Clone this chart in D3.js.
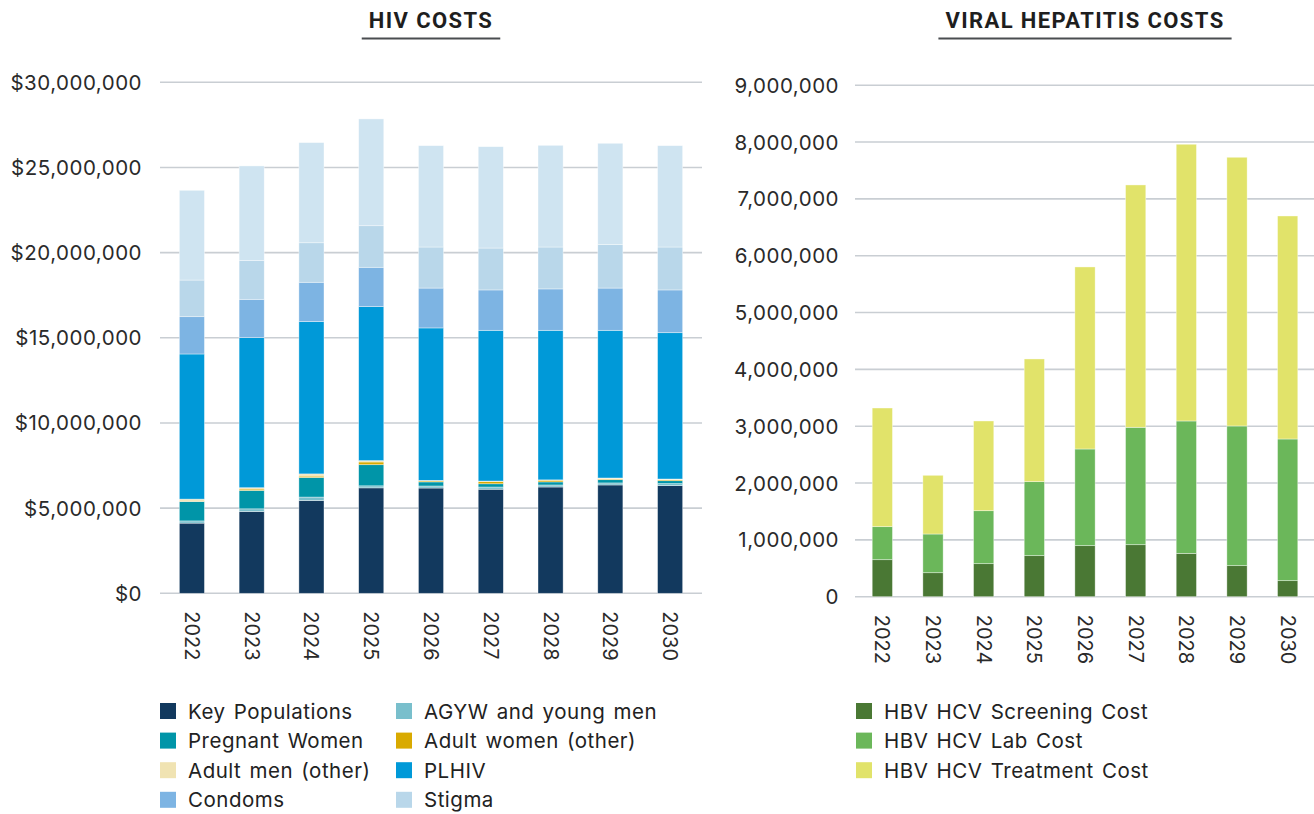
<!DOCTYPE html>
<html>
<head>
<meta charset="utf-8">
<script src="https://cdn.jsdelivr.net/npm/d3@7"></script>
<style>
  html, body { margin: 0; padding: 0; background: #fff; overflow: hidden; }
  svg { display: block; }
  text { font-family: Inter, "Noto Sans", sans-serif; fill: #222; }
</style>
</head>
<body>
<svg id="chart" width="1314" height="814"></svg>
<script>
// Years shared by both panels
const years = ["2022", "2023", "2024", "2025", "2026", "2027", "2028", "2029", "2030"];

// HIV costs by programme area (US$ millions)
const hivSeries = ["Key Populations", "AGYW and young men", "Pregnant Women", "Adult women (other)",
                   "Adult men (other)", "PLHIV", "Condoms", "Stigma", "Other enablers"];
const keyPopulations = [4.12, 4.80, 5.45, 6.19, 6.18, 6.11, 6.24, 6.36, 6.32];
const agyw           = [0.13, 0.16, 0.20, 0.12, 0.12, 0.13, 0.12, 0.12, 0.12];
const pregnantWomen  = [1.14, 1.08, 1.15, 1.24, 0.24, 0.19, 0.18, 0.19, 0.17];
const adultWomen     = [0.02, 0.08, 0.08, 0.16, 0.06, 0.14, 0.10, 0.05, 0.06];
const adultMen       = [0.12, 0.08, 0.13, 0.08, 0.03, 0.02, 0.02, 0.05, 0.04];
const plhiv          = [8.52, 8.81, 8.94, 9.04, 8.95, 8.85, 8.78, 8.67, 8.59];
const condoms        = [2.19, 2.25, 2.31, 2.31, 2.34, 2.37, 2.43, 2.48, 2.51];
const stigma         = [2.15, 2.27, 2.32, 2.44, 2.41, 2.46, 2.46, 2.55, 2.52];
const otherEnablers  = [5.27, 5.56, 5.88, 6.27, 5.95, 5.95, 5.97, 5.95, 5.95];
const hivColors = ["#12395e", "#79bfcc", "#0095a8", "#d9aa00", "#f0e3b2",
                   "#0099d8", "#7db4e3", "#b9d7ea", "#cfe4f1"];
// only the first eight series fit in the visible legend area
const hivLegendCount = 8;
const hivTicks = [0, 5, 10, 15, 20, 25, 30];

// Viral hepatitis costs (millions)
const hepSeries = ["HBV HCV Screening Cost", "HBV HCV Lab Cost", "HBV HCV Treatment Cost"];
const screening = [0.651, 0.422, 0.581, 0.722, 0.898, 0.915, 0.763, 0.546, 0.282];
const lab       = [0.581, 0.681, 0.932, 1.302, 1.701, 2.066, 2.329, 2.458, 2.493];
const treatment = [2.088, 1.033, 1.579, 2.159, 3.203, 4.264, 4.869, 4.728, 3.924];
const hepColors = ["#4a7834", "#6bb75a", "#e1e36a"];
const hepTicks = [0, 1, 2, 3, 4, 5, 6, 7, 8, 9];

const svg = d3.select("#chart");

function buildRows(names, arrays) {
  return years.map((y, i) => {
    const row = { year: y };
    names.forEach((n, k) => { row[n] = arrays[k][i]; });
    return row;
  });
}

function drawPanel(opts) {
  const { names, arrays, colors, ticks, x0, x1, yTop, yBase, padding, title, fmt, labelRight, legend } = opts;
  const rows = buildRows(names, arrays);
  const x = d3.scaleBand().domain(years).range([x0, x1]).paddingInner(padding).paddingOuter(padding / 2);
  const y = d3.scaleLinear().domain([0, d3.max(ticks)]).range([yBase, yTop]);
  const g = svg.append("g");

  // gridlines
  g.append("g").selectAll("line").data(ticks).join("line")
    .attr("x1", x0 - 2).attr("x2", x1 + 2)
    .attr("y1", d => y(d)).attr("y2", d => y(d))
    .attr("stroke", "#c9ced3").attr("stroke-width", 1.6);

  // y tick labels
  g.append("g").selectAll("text").data(ticks).join("text")
    .attr("x", labelRight).attr("y", d => y(d))
    .attr("text-anchor", "end").attr("dominant-baseline", "central")
    .style("font-size", "20.5px").style("letter-spacing", "0.5px").style("fill", "#2a2a2a")
    .text(fmt);

  // stacked bars
  const stack = d3.stack().keys(names)(rows);
  g.append("g").selectAll("g").data(stack).join("g")
    .attr("fill", (d, i) => colors[i])
    .selectAll("rect").data(d => d).join("rect")
    .attr("x", d => x(d.data.year))
    .attr("width", x.bandwidth())
    .attr("y", d => y(d[1]))
    .attr("height", d => Math.max(0, y(d[0]) - y(d[1])))
    .attr("stroke", "rgba(255,255,255,0.55)").attr("stroke-width", 0.7);

  // rotated year labels
  g.append("g").selectAll("text").data(years).join("text")
    .attr("transform", d => `translate(${x(d) + x.bandwidth() / 2},${yBase + 18}) rotate(90)`)
    .attr("text-anchor", "start").attr("dominant-baseline", "central")
    .style("font-size", "20px").style("fill", "#2a2a2a")
    .text(d => d);

  // panel title with rule underneath
  const cx = (x0 + x1) / 2;
  const t = g.append("text").attr("x", cx).attr("y", 20)
    .attr("text-anchor", "middle").attr("dominant-baseline", "central")
    .style("font-family", "Roboto, Inter, sans-serif")
    .style("font-weight", "700").style("font-size", "22px").style("letter-spacing", "1.4px")
    .style("fill", "#1e1e1e")
    .text(title);
  const w = t.node().getComputedTextLength();
  g.append("line").attr("x1", cx - w / 2 - 7).attr("x2", cx + w / 2 + 7)
    .attr("y1", 38.5).attr("y2", 38.5).attr("stroke", "#4a4d50").attr("stroke-width", 1.8);

  // legend
  const shown = names.slice(0, legend.count);
  const items = legend.cols === 2
    ? shown.map((n, i) => ({ n, c: colors[i], col: i % 2, row: Math.floor(i / 2) }))
    : shown.map((n, i) => ({ n, c: colors[i], col: 0, row: i }));
  const lg = g.append("g").selectAll("g").data(items).join("g")
    .attr("transform", d => `translate(${legend.x + d.col * legend.colW},${legend.y + d.row * 29.6})`);
  lg.append("rect").attr("x", 0).attr("y", -8).attr("width", 16).attr("height", 16).attr("fill", d => d.c);
  lg.append("text").attr("x", 28).attr("y", 0).attr("dominant-baseline", "central")
    .style("font-size", "20.5px").style("letter-spacing", "0.5px").style("word-spacing", "2px")
    .style("fill", "#222").text(d => d.n);
}

drawPanel({
  names: hivSeries,
  arrays: [keyPopulations, agyw, pregnantWomen, adultWomen, adultMen, plhiv, condoms, stigma, otherEnablers],
  colors: hivColors, ticks: hivTicks,
  x0: 162, x1: 700, yTop: 82.3, yBase: 593.3, padding: 0.58,
  title: "HIV COSTS",
  fmt: d => "$" + d3.format(",")(d * 1e6),
  labelRight: 142,
  legend: { x: 160, y: 711, cols: 2, colW: 236, count: hivLegendCount }
});

drawPanel({
  names: hepSeries,
  arrays: [screening, lab, treatment],
  colors: hepColors, ticks: hepTicks,
  x0: 857, x1: 1313, yTop: 85.2, yBase: 596.7, padding: 0.6,
  title: "VIRAL HEPATITIS COSTS",
  fmt: d => d3.format(",")(d * 1e6),
  labelRight: 839,
  legend: { x: 856, y: 711, cols: 1, colW: 0, count: hepSeries.length }
});
</script>
</body>
</html>
